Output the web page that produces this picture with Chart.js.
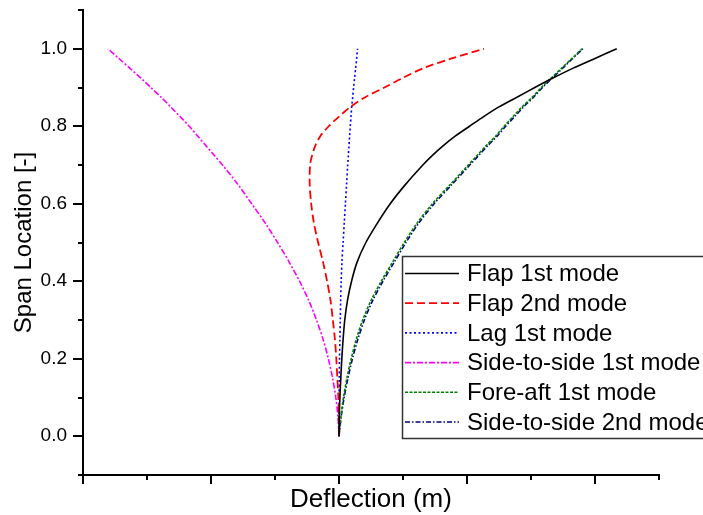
<!DOCTYPE html>
<html>
<head>
<meta charset="utf-8">
<script src="https://cdn.jsdelivr.net/npm/chart.js@4.4.1/dist/chart.umd.min.js"></script>
<style>
  html, body { margin: 0; padding: 0; background: #fff; }
  canvas { display: block; }
</style>
</head>
<body>
<canvas id="chart" width="703" height="515"></canvas>
<script>
// normalised span stations along the blade (y axis)
const span = [0, 0.05, 0.1, 0.15, 0.2, 0.25, 0.3, 0.35, 0.4, 0.45, 0.5, 0.55, 0.6, 0.65, 0.7,
  0.725, 0.75, 0.775, 0.8, 0.825, 0.85, 0.875, 0.9, 0.925, 0.95, 0.975, 1.0];

// mode shape deflections at each station
const flap1 = [0, 0.002, 0.007, 0.014, 0.022, 0.032, 0.045, 0.066, 0.098, 0.142, 0.21, 0.30, 0.40, 0.52, 0.655,
  0.73, 0.815, 0.91, 1.02, 1.13, 1.25, 1.39, 1.53, 1.675, 1.83, 2.0, 2.17];
const flap2 = [0, -0.002, -0.005, -0.013, -0.021, -0.032, -0.048, -0.066, -0.093, -0.125, -0.163, -0.196, -0.217, -0.229, -0.226,
  -0.21, -0.185, -0.145, -0.08, 0.0, 0.09, 0.205, 0.355, 0.50, 0.66, 0.88, 1.133];
const lag1 = [0, 0.0005, 0.001, 0.002, 0.004, 0.007, 0.010, 0.013, 0.017, 0.023, 0.032, 0.041, 0.050, 0.059, 0.068,
  0.073, 0.078, 0.083, 0.088, 0.094, 0.099, 0.107, 0.114, 0.122, 0.130, 0.138, 0.145];
const sideToSide1 = [0, -0.008, -0.025, -0.05, -0.083, -0.124, -0.176, -0.236, -0.308, -0.39, -0.48, -0.576, -0.682, -0.79, -0.91,
  -0.975, -1.04, -1.105, -1.17, -1.242, -1.315, -1.39, -1.47, -1.55, -1.635, -1.72, -1.805];
const foreAft1 = [0, 0.015, 0.035, 0.062, 0.095, 0.135, 0.185, 0.25, 0.33, 0.42, 0.51, 0.61, 0.73, 0.87, 1.01,
  1.08, 1.15, 1.225, 1.29, 1.36, 1.43, 1.51, 1.58, 1.66, 1.74, 1.82, 1.90];
const sideToSide2 = [0, 0.017, 0.04, 0.07, 0.105, 0.147, 0.198, 0.263, 0.343, 0.433, 0.523, 0.623, 0.743, 0.883, 1.022,
  1.092, 1.162, 1.237, 1.302, 1.372, 1.442, 1.52, 1.59, 1.668, 1.748, 1.826, 1.905];

const yTickValues = [0, 0.2, 0.4, 0.6, 0.8, 1.0];
const xTitle = 'Deflection (m)';
const yTitle = 'Span Location [-]';

const FONT = 'Arial, "Liberation Sans", sans-serif';
Chart.defaults.font.family = FONT;
Chart.defaults.color = '#000';

function pts(defl) {
  return span.map((s, i) => ({ x: defl[i], y: s }));
}

function series(label, defl, color, dash, width) {
  return {
    label,
    data: pts(defl),
    borderColor: color,
    backgroundColor: color,
    borderWidth: width || 1.6,
    borderDash: dash,
    pointRadius: 0,
    showLine: true,
    tension: 0.3,
    fill: false,
  };
}

// major / minor tick marks on the outside of both axes, plus x title
const axisDecor = {
  id: 'axisDecor',
  afterDraw(chart) {
    const { ctx, scales: { x, y }, chartArea } = chart;
    ctx.save();
    ctx.strokeStyle = '#000';
    ctx.lineWidth = 2;
    ctx.beginPath();
    for (let k = -1; k <= 11; k++) {
      const py = Math.round(y.getPixelForValue(k / 10));
      const len = (k >= 0 && k <= 10 && k % 2 === 0) ? 10 : 5;
      ctx.moveTo(chartArea.left, py);
      ctx.lineTo(chartArea.left - len, py);
    }
    for (let k = -4; k <= 5; k++) {
      const px = Math.round(x.getPixelForValue(k / 2));
      const len = (k % 2 === 0) ? 9 : 5;
      ctx.moveTo(px, chartArea.bottom);
      ctx.lineTo(px, chartArea.bottom + len);
    }
    ctx.stroke();

    ctx.fillStyle = '#000';
    ctx.font = '26px ' + FONT;
    ctx.textAlign = 'center';
    ctx.textBaseline = 'alphabetic';
    ctx.fillText(xTitle, (chartArea.left + chartArea.right) / 2, 507);
    ctx.restore();
  }
};

// boxed legend sitting in the lower right of the plot
const boxLegend = {
  id: 'boxLegend',
  afterDraw(chart) {
    const { ctx } = chart;
    const left = 402.5, top = 256.5, rowH = 29.7;
    ctx.save();
    ctx.fillStyle = '#fff';
    ctx.fillRect(left, top, 330, 182);
    ctx.strokeStyle = '#333';
    ctx.lineWidth = 1.5;
    ctx.strokeRect(left, top, 330, 182);
    ctx.font = '24px ' + FONT;
    ctx.textBaseline = 'middle';
    chart.data.datasets.forEach((ds, i) => {
      const yy = top + 17 + i * rowH;
      ctx.strokeStyle = ds.borderColor;
      ctx.lineWidth = ds.borderWidth;
      ctx.setLineDash(ds.borderDash || []);
      ctx.beginPath();
      ctx.moveTo(405, yy);
      ctx.lineTo(459, yy);
      ctx.stroke();
      ctx.setLineDash([]);
      ctx.fillStyle = '#000';
      ctx.fillText(ds.label, 467, yy + 1);
    });
    ctx.restore();
  }
};

const chart = new Chart(document.getElementById('chart'), {
  type: 'scatter',
  data: {
    datasets: [
      series('Flap 1st mode', flap1, '#000000', []),
      series('Flap 2nd mode', flap2, '#ff0000', [8, 4], 1.8),
      series('Lag 1st mode', lag1, '#0000ff', [2, 2.5]),
      series('Side-to-side 1st mode', sideToSide1, '#ff00ff', [6, 2, 2, 2]),
      series('Fore-aft 1st mode', foreAft1, '#008000', [3, 1.5]),
      series('Side-to-side 2nd mode', sideToSide2, '#000080', [5, 2, 1.5, 2]),
    ]
  },
  options: {
    responsive: false,
    animation: false,
    layout: { padding: { top: 10, right: 44, left: 0, bottom: 0 } },
    plugins: {
      legend: { display: false },
      tooltip: { enabled: false },
    },
    scales: {
      x: {
        type: 'linear',
        min: -2,
        max: 2.5,
        ticks: { display: false },
        grid: { display: true, drawOnChartArea: false, drawTicks: false, color: 'rgba(0,0,0,0)' },
        border: { display: true, color: '#000', width: 2 },
        afterFit(scale) {
          scale.height = 40;
          scale.paddingLeft = 0;
          scale.paddingRight = 0;
        },
      },
      y: {
        type: 'linear',
        min: -0.1,
        max: 1.1,
        afterBuildTicks(scale) {
          scale.ticks = yTickValues.map(v => ({ value: v }));
        },
        ticks: {
          padding: 16,
          font: { size: 19 },
          color: '#000',
          callback(v) { return v.toFixed(1); },
        },
        grid: { display: true, drawOnChartArea: false, drawTicks: false, color: 'rgba(0,0,0,0)' },
        border: { display: true, color: '#000', width: 2 },
        title: {
          display: true,
          text: yTitle,
          font: { size: 24 },
          color: '#000',
          padding: { top: 10, bottom: 0 },
        },
        afterFit(scale) {
          scale.width = 83;
          scale.paddingTop = 0;
          scale.paddingBottom = 0;
        },
      },
    },
  },
  plugins: [axisDecor, boxLegend],
});
</script>
</body>
</html>
